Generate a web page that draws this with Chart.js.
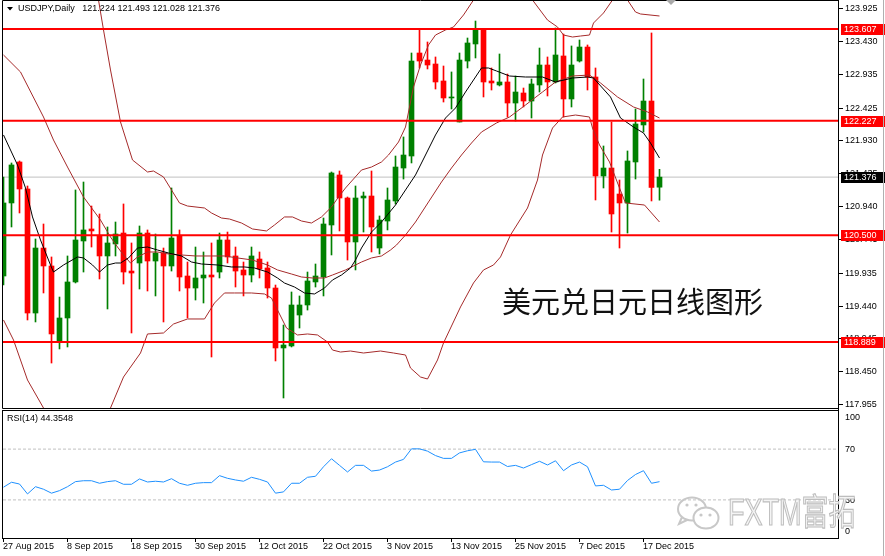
<!DOCTYPE html>
<html>
<head>
<meta charset="utf-8">
<title>USDJPY Daily</title>
<script src="https://cdn.jsdelivr.net/npm/chart.js@4.4.1/dist/chart.umd.min.js"></script>
<style>
  html, body { margin: 0; padding: 0; background: #fff; }
  #wrap { position: relative; width: 885px; height: 556px; overflow: hidden; background: #fff; }
  canvas { position: absolute; left: 0; }
  #priceChart { top: 0; }
  #rsiChart { top: 409px; }
</style>
</head>
<body>
<div id="wrap">
  <canvas id="priceChart" width="885" height="409"></canvas>
  <canvas id="rsiChart" width="885" height="147"></canvas>
</div>
<script>
// daily bars, 27 Aug 2015 .. 21 Dec 2015 (index 0..82)
const opens = [119.885,120.986,121.604,121.197,119.327,120.307,120.036,118.890,119.252,119.795,
  120.413,120.594,120.488,120.187,120.368,120.533,119.960,120.081,120.533,120.111,
  120.232,120.036,120.488,119.885,119.704,119.855,119.900,119.945,120.428,120.187,
  119.976,119.900,120.141,120.006,119.704,118.800,118.830,119.297,119.448,119.795,
  119.870,120.654,121.408,121.061,120.398,121.061,121.091,120.307,120.714,121.016,
  121.513,121.694,123.247,123.141,123.081,122.825,122.569,122.207,123.126,123.383,
  123.594,122.825,122.765,122.810,122.493,122.644,122.523,122.765,123.066,122.810,
  123.202,122.554,123.126,123.337,122.885,121.393,121.513,121.121,120.986,121.604,
  122.162,122.523,121.224];
const highs = [121.378,121.589,121.619,121.242,120.443,120.669,120.172,119.568,120.187,121.182,
  121.302,120.940,120.820,120.624,120.699,120.971,120.383,120.639,120.579,120.518,
  120.307,121.212,120.579,120.096,120.322,120.247,120.383,120.533,120.548,120.322,
  120.096,120.322,120.247,120.096,119.749,119.146,119.644,119.584,119.945,120.066,
  120.759,121.453,121.468,121.076,121.242,121.151,121.468,120.790,121.212,121.694,
  121.981,123.247,123.594,123.413,123.187,123.051,122.961,123.247,123.473,123.729,
  123.594,123.021,123.232,122.930,122.900,122.719,122.855,123.322,123.187,123.624,
  123.533,123.353,123.443,123.368,123.021,121.845,122.207,121.332,121.770,122.403,
  122.855,123.549,121.493];
const lows = [119.749,120.624,120.835,119.222,119.192,119.629,118.573,118.785,118.815,119.780,
  119.945,120.322,119.840,119.388,120.187,119.764,119.026,119.689,119.659,119.584,
  119.192,119.960,119.659,119.252,119.523,119.478,118.664,119.855,120.081,119.719,
  119.584,119.795,119.855,119.553,118.604,118.046,118.815,119.101,119.372,119.719,
  119.584,120.202,120.564,120.126,119.976,120.548,120.247,120.217,120.579,120.971,
  121.347,121.589,123.021,123.006,122.704,122.508,122.403,122.207,123.021,123.172,
  122.584,122.689,122.750,122.282,122.222,122.433,122.267,122.659,122.599,122.795,
  122.282,122.433,123.111,122.689,121.031,121.212,120.548,120.307,120.533,121.347,
  122.056,121.016,121.028];
const closes = [120.986,121.559,121.197,119.327,120.307,120.036,119.011,119.252,119.795,120.428,
  120.579,120.564,120.187,120.383,120.518,119.945,119.930,120.533,120.111,120.232,
  120.036,120.458,119.870,119.704,119.855,119.900,119.870,120.428,120.172,119.960,
  119.900,120.187,119.991,119.704,118.800,118.845,119.448,119.448,119.810,119.885,
  120.669,121.438,121.061,120.398,121.061,121.091,120.624,120.729,121.031,121.528,
  121.709,123.126,123.126,123.066,122.810,122.569,122.584,123.141,123.398,123.594,
  122.810,122.795,122.810,122.493,122.659,122.523,122.780,123.066,122.810,123.217,
  122.554,123.066,123.337,122.885,121.393,121.513,120.820,120.986,121.619,122.177,
  122.523,121.220,121.376];

// Bollinger bands (upper / middle / lower) and black moving average, [bar, price]
const bbUpper = [[0,127.2],[7.125,126.01],[10.875,124.72],[11.875,124.046],[12.5,123.594],[13.375,122.991],
  [14.625,122.207],[16.125,121.634],[18,121.453],[18.75,121.468],[20,121.378],[21,121.182],[22,120.986],
  [23,120.940],[25.125,120.910],[26,120.835],[27.25,120.759],[28.25,120.744],[29.75,120.684],[31.125,120.594],
  [32.875,120.564],[33.875,120.654],[35.125,120.775],[36.125,120.775],[37.25,120.714],[38.5,120.684],
  [39.75,120.775],[41,120.925],[41.875,121.076],[42.75,121.212],[44.75,121.483],[46,121.528],[47.25,121.604],
  [48.125,121.709],[49.375,121.905],[50.25,122.131],[50.625,122.357],[51.25,122.734],[52.125,123.066],
  [53.125,123.368],[54,123.518],[55.25,123.594],[56.25,123.639],[57.5,123.820],[58.75,124.046],[62.125,124.17],
  [66.125,124.046],[68,123.744],[69.25,123.639],[70,123.518],[71.125,123.488],[72.125,123.503],[73.25,123.518],
  [73.75,123.699],[75,123.850],[76.125,124.046],[76.875,124.10],[78,124.046],[79,123.865],[79.625,123.835],
  [82,123.805]];
const bbMiddle = [[0,123.217],[2.125,122.961],[5,122.282],[6.25,121.935],[8,121.528],[10,121.076],[12.125,120.729],
  [13.375,120.473],[14.25,120.322],[15,120.202],[15.875,120.081],[16.75,120.172],[18,120.247],[19.25,120.247],
  [20.625,120.217],[22.25,120.202],[24,120.187],[25.875,120.187],[27.625,120.187],[29.25,120.157],[31.125,120.126],
  [33,120.051],[34.25,119.976],[36,119.915],[37.25,119.870],[38.625,119.855],[40.125,119.855],[41.125,119.900],
  [42.75,119.976],[44.75,120.096],[46,120.157],[47.25,120.187],[48.375,120.277],[49.125,120.352],[50.25,120.503],
  [51.5,120.699],[53.125,121.001],[54.75,121.302],[56,121.513],[57.25,121.709],[58.5,121.890],[59.75,122.056],
  [61.625,122.192],[63.25,122.282],[65.25,122.463],[67.375,122.659],[69,122.810],[71.125,122.900],[73.25,122.915],
  [74.625,122.795],[76.75,122.584],[78.75,122.433],[80.5,122.358],[82,122.267]];
const bbLower = [[0,119.222],[1.25,118.920],[3,118.317],[5,117.895],[9,117.187],[13.375,117.895],[15,118.362],
  [17.125,118.724],[18,119.011],[20,119.026],[21.25,119.161],[23,119.237],[25.125,119.237],[26.375,119.478],
  [27.625,119.629],[28.875,119.629],[31,119.629],[32.625,119.614],[33.5,119.553],[34.75,119.252],[35.375,119.101],
  [36.75,118.996],[38,119.011],[39.25,118.996],[40.5,118.890],[41.125,118.769],[42.125,118.739],[43.375,118.754],
  [45,118.724],[47.125,118.754],[48.75,118.724],[50.25,118.694],[50.875,118.498],[52.125,118.362],[53,118.332],
  [54.25,118.619],[55,118.875],[57.125,119.418],[58.75,119.780],[60,119.976],[61.25,120.051],[62.125,120.172],
  [63.375,120.503],[65.5,120.910],[66.75,121.332],[67.375,121.709],[68.625,122.116],[69.875,122.282],[71.5,122.312],
  [73.25,122.282],[73.625,122.116],[74.5,121.860],[75.75,121.604],[77,121.212],[77.75,120.986],[80.125,120.955],
  [82,120.699]];
const maLine = [[0,122.011],[1.75,121.558],[2.75,121.212],[3.625,120.775],[4.625,120.428],[5.875,120.051],
  [6.25,119.945],[7.5,120.051],[9.25,120.172],[10,120.157],[11.125,120.051],[12,119.945],[13,120.051],[14,120.081],
  [14.625,120.081],[15.625,120.157],[16.75,120.307],[18,120.322],[19.25,120.277],[20.625,120.232],[22.25,120.187],
  [23.5,120.096],[24.75,120.066],[26.75,120.051],[28.5,120.021],[30.125,120.021],[31.375,120.006],[33,119.945],
  [34.25,119.855],[35.125,119.779],[36.375,119.719],[37.625,119.629],[38.875,119.614],[40.125,119.704],
  [41.125,119.825],[42.25,119.900],[43.375,120.006],[44,120.126],[44.75,120.307],[46,120.548],[47.25,120.699],
  [49,120.955],[50.25,121.182],[51.5,121.408],[52.75,121.709],[54,122.011],[55.25,122.267],[56.5,122.418],
  [57.75,122.659],[59,122.885],[59.75,123.021],[60.625,123.021],[61.625,122.976],[63.25,122.900],[65.25,122.885],
  [67.375,122.885],[69,122.810],[71.125,122.870],[73,122.885],[73.75,122.870],[75.875,122.584],[77.125,122.267],
  [78.75,122.131],[80,122.041],[80.875,121.890],[82,121.664]];

const rsi = [40.0,43.9,42.5,34.7,40.4,38.4,35.3,37.3,40.4,44.4,
  45.1,45.1,43.1,44.4,45.1,42.3,42.3,46.5,44.1,44.7,
  44.1,46.7,43.1,41.5,43.1,43.6,43.6,49.1,47.0,45.7,
  44.7,47.8,46.2,44.1,35.3,36.3,43.1,43.1,47.8,48.6,
  56.1,62.4,57.2,52.0,57.2,57.2,52.7,53.5,56.1,59.8,
  61.9,70.2,70.2,68.4,64.9,62.7,62.7,67.0,68.7,69.8,
  60.0,59.8,59.8,56.3,57.2,55.1,57.8,60.4,57.5,60.8,
  53.0,57.5,59.8,56.1,41.0,41.5,37.8,38.4,45.3,50.0,
  53.0,43.1,44.3548];

const levels = [123.607, 122.227, 120.500, 118.889];
const lastPrice = 121.376;
const priceTicks = [123.925, 123.430, 122.935, 122.425, 121.930, 121.435, 120.940, 120.445, 119.935, 119.440, 118.945, 118.450, 117.955];
const rsiLevels = [70, 30];
const rsiTicks = [100, 70, 30, 0];
const dateTicks = [0, 8, 16, 24, 32, 40, 48, 56, 64, 72, 80];
const dateLabels = ["27 Aug 2015", "8 Sep 2015", "18 Sep 2015", "30 Sep 2015", "12 Oct 2015", "22 Oct 2015",
  "3 Nov 2015", "13 Nov 2015", "25 Nov 2015", "7 Dec 2015", "17 Dec 2015"];
const headerText = "USDJPY,Daily   121.224 121.493 121.028 121.376";
const rsiText = "RSI(14) 44.3548";
const noteText = "美元兑日元日线图形";
const brandText = "FXTM富拓";

const X_MIN = -0.0625, X_MAX = 104.4375;
const GREEN = "#008000", RED = "#ff0000", BAND = "#a52a2a";
const AXIS_FONT = "9px 'Liberation Sans', Arial, sans-serif";

const candleColors = opens.map((o, i) => (closes[i] >= o ? GREEN : RED));

function lineSet(points, color, width, order, dash) {
	return {
		type: "line",
		data: points.map((p) => ({ x: p[0], y: p[1] })),
		borderColor: color,
		borderWidth: width,
		borderDash: dash || [],
		pointRadius: 0,
		tension: 0,
		fill: false,
		order: order,
	};
}
function flatSet(value, color, width, order, dash) {
	return lineSet([[X_MIN, value], [X_MAX, value]], color, width, order, dash);
}

// labels, price scale and frame for the price window
const priceDecor = {
	id: "priceDecor",
	afterDraw(chart) {
		const { ctx, chartArea: area, scales } = chart;
		const y = scales.y;
		ctx.save();
		ctx.strokeStyle = "#000";
		ctx.lineWidth = 1;
		ctx.beginPath();
		ctx.moveTo(area.left - 0.5, area.bottom + 0.5);
		ctx.lineTo(area.left - 0.5, 0.5);
		ctx.lineTo(area.right - 0.5, 0.5);
		ctx.moveTo(area.left - 0.5, area.bottom + 0.5);
		ctx.lineTo(area.right - 0.5, area.bottom + 0.5);
		ctx.moveTo(area.right - 0.5, 0);
		ctx.lineTo(area.right - 0.5, chart.height);
		ctx.stroke();

		ctx.font = AXIS_FONT;
		ctx.textAlign = "left";
		ctx.textBaseline = "middle";
		ctx.fillStyle = "#000";
		priceTicks.forEach((v) => {
			const py = Math.round(y.getPixelForValue(v)) + 0.5;
			ctx.beginPath();
			ctx.moveTo(area.right, py);
			ctx.lineTo(area.right + 4, py);
			ctx.stroke();
			ctx.fillText(v.toFixed(3), area.right + 6, py);
		});
		const tag = (v, bg) => {
			const py = Math.round(y.getPixelForValue(v));
			ctx.fillStyle = bg;
			ctx.fillRect(area.right + 2, py - 5, 44, 11);
			ctx.fillStyle = "#fff";
			ctx.fillText(v.toFixed(3), area.right + 5, py + 0.5);
		};
		levels.forEach((v) => tag(v, RED));
		tag(lastPrice, "#000");

		// header
		ctx.fillStyle = "#000";
		ctx.beginPath();
		ctx.moveTo(7, 7);
		ctx.lineTo(13, 7);
		ctx.lineTo(10, 10.5);
		ctx.closePath();
		ctx.fill();
		ctx.fillText(headerText, 18, 8.5);

		// chart shift marker
		ctx.fillStyle = "#a8a8a8";
		ctx.beginPath();
		ctx.moveTo(666, 0);
		ctx.lineTo(676, 0);
		ctx.lineTo(671, 5);
		ctx.closePath();
		ctx.fill();

		ctx.font = "29px 'Noto Sans CJK SC', sans-serif";
		ctx.fillStyle = "#111";
		ctx.fillText(noteText, 502, 302);

		ctx.strokeStyle = "#b0b0b0";
		ctx.beginPath();
		ctx.moveTo(883.5, 0);
		ctx.lineTo(883.5, chart.height);
		ctx.stroke();
		ctx.restore();
	},
};

const rsiDecor = {
	id: "rsiDecor",
	afterDraw(chart) {
		const { ctx, chartArea: area, scales } = chart;
		const x = scales.x, y = scales.y;
		ctx.save();
		ctx.strokeStyle = "#000";
		ctx.lineWidth = 1;
		ctx.strokeRect(area.left - 0.5, area.top - 0.5, area.right - area.left, area.bottom - area.top + 1);
		ctx.beginPath();
		ctx.moveTo(area.right - 0.5, 0);
		ctx.lineTo(area.right - 0.5, area.bottom + 1);
		ctx.stroke();

		ctx.font = AXIS_FONT;
		ctx.fillStyle = "#000";
		ctx.textAlign = "left";
		ctx.textBaseline = "middle";
		ctx.fillText(rsiText, 7, 10);

		rsiTicks.forEach((v) => {
			let py = Math.round(y.getPixelForValue(v)) + 0.5;
			if (v === 100) py += 6;
			if (v === 0) py -= 7;
			ctx.fillText(String(v), area.right + 6, py);
		});

		dateTicks.forEach((b, k) => {
			const px = Math.floor(x.getPixelForValue(b)) + 0.5;
			ctx.beginPath();
			ctx.moveTo(px, area.bottom);
			ctx.lineTo(px, area.bottom + 4);
			ctx.stroke();
			ctx.fillText(dateLabels[k], px - 0.5, area.bottom + 9);
		});

		// watermark
		ctx.strokeStyle = "#c8c8c8";
		ctx.lineWidth = 2;
		ctx.fillStyle = "#ffffff";
		ctx.beginPath();
		ctx.ellipse(692, 100, 14, 11.5, 0, 0, Math.PI * 2);
		ctx.moveTo(682, 108);
		ctx.lineTo(679, 115);
		ctx.lineTo(687, 111);
		ctx.stroke();
		ctx.beginPath();
		ctx.ellipse(706, 109, 12.5, 10.5, 0, 0, Math.PI * 2);
		ctx.fill();
		ctx.stroke();
		ctx.fillStyle = "#c8c8c8";
		[[687, 96], [696, 96], [701, 106], [710, 106]].forEach((p) => {
			ctx.beginPath();
			ctx.arc(p[0], p[1], 1.6, 0, Math.PI * 2);
			ctx.fill();
		});
		ctx.translate(728, 116);
		ctx.scale(0.75, 1);
		ctx.font = "36px 'Liberation Sans', 'Noto Sans CJK SC', sans-serif";
		ctx.textBaseline = "alphabetic";
		ctx.lineWidth = 1.2;
		ctx.fillStyle = "#f4f4f4";
		ctx.fillText(brandText, 0, 0);
		ctx.strokeStyle = "#bdbdbd";
		ctx.strokeText(brandText, 0, 0);
		ctx.restore();

		ctx.save();
		ctx.strokeStyle = "#b0b0b0";
		ctx.beginPath();
		ctx.moveTo(883.5, 0);
		ctx.lineTo(883.5, chart.height);
		ctx.stroke();
		ctx.restore();
	},
};

const baseOptions = {
	responsive: false,
	animation: false,
	events: [],
	plugins: { legend: { display: false }, tooltip: { enabled: false } },
};

new Chart(document.getElementById("priceChart"), {
	type: "bar",
	data: {
		datasets: [
			flatSet(lastPrice, "#c0c0c0", 1, 20),
			{
				type: "bar",
				data: lows.map((l, i) => ({ x: i, y: [l, highs[i]] })),
				backgroundColor: candleColors,
				barThickness: 1,
				grouped: false,
				borderWidth: 0,
				order: 19,
			},
			{
				type: "bar",
				data: opens.map((o, i) => ({ x: i, y: [o, closes[i]] })),
				backgroundColor: candleColors,
				barThickness: 5,
				minBarLength: 1,
				grouped: false,
				borderWidth: 0,
				order: 18,
			},
			lineSet(bbUpper, BAND, 1, 10),
			lineSet(bbMiddle, BAND, 1, 10),
			lineSet(bbLower, BAND, 1, 10),
			lineSet(maLine, "#000000", 1, 9),
			...levels.map((v) => flatSet(v, RED, 2, 1)),
		],
	},
	options: {
		...baseOptions,
		layout: { padding: { left: 3, right: 46, top: 0, bottom: 1 } },
		scales: {
			x: { type: "linear", display: false, min: X_MIN, max: X_MAX, offset: false },
			y: { display: false, min: 117.895, max: 124.046, beginAtZero: false },
		},
	},
	plugins: [priceDecor],
});

new Chart(document.getElementById("rsiChart"), {
	type: "line",
	data: {
		datasets: [
			...rsiLevels.map((v) => flatSet(v, "#c0c0c0", 1, 5, [3, 2])),
			lineSet(rsi.map((v, i) => [i, v]), "#1e90ff", 1, 1),
		],
	},
	options: {
		...baseOptions,
		layout: { padding: { left: 3, right: 46, top: 2, bottom: 18 } },
		scales: {
			x: { type: "linear", display: false, min: X_MIN, max: X_MAX },
			y: { display: false, min: 0, max: 100 },
		},
	},
	plugins: [rsiDecor],
});
</script>
</body>
</html>
